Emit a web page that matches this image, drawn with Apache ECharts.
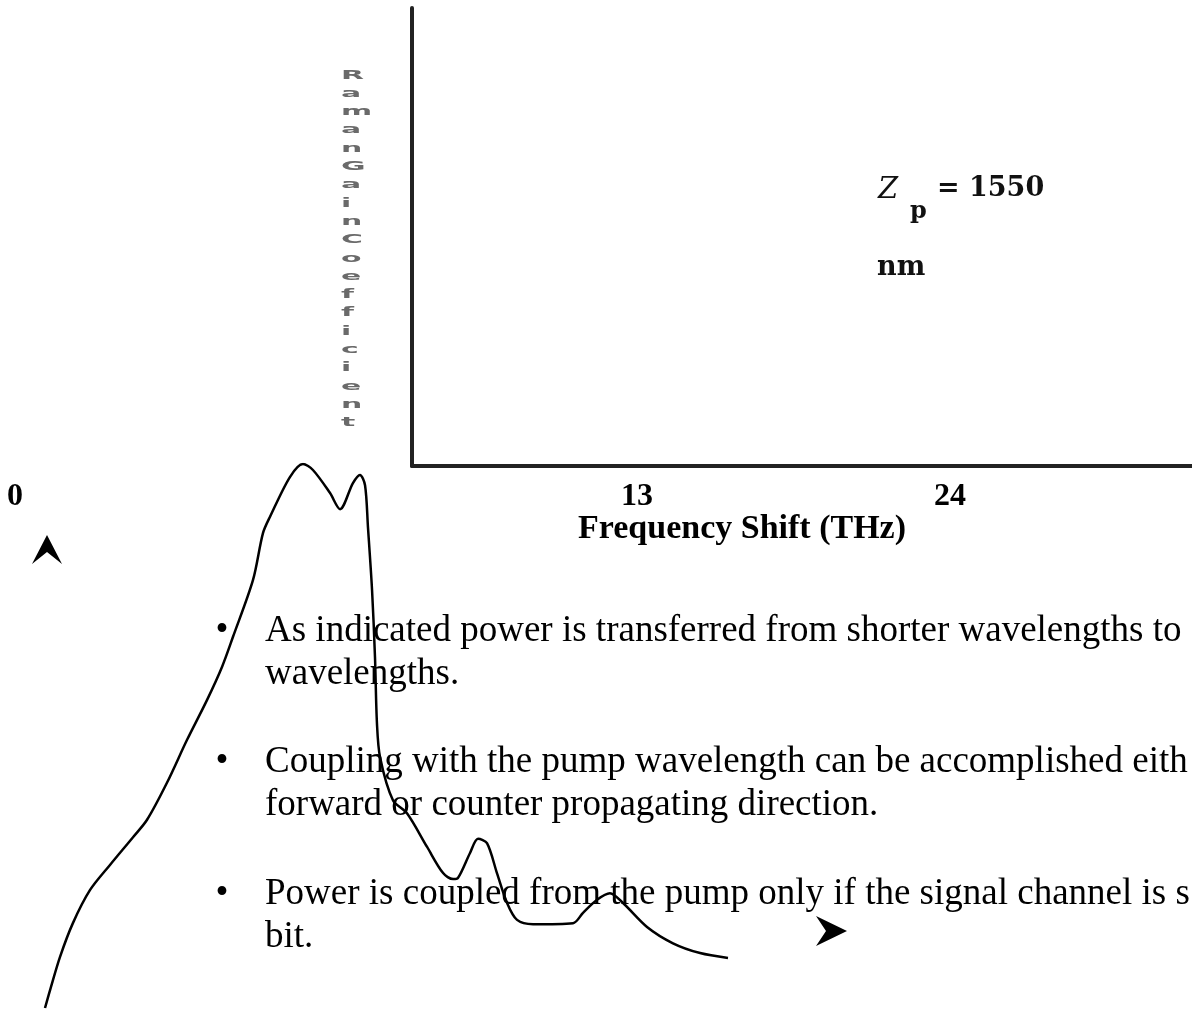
<!DOCTYPE html>
<html>
<head lang="en">
    <meta http-equiv="Content-Type" content="text/html; charset=UTF-8">
    <script src="https://cdn.jsdelivr.net/npm/echarts@6/dist/echarts.min.js" type="text/javascript"></script>
    <style>
        html, body { margin: 0; padding: 0; background: #fff; }
        #container { width: 1192px; height: 1027px; }
    </style>
</head>
<body>
<div id="container"></div>
<script>
/**=======data=====**/
// frequency shift (THz) of the gain curve
var shiftTHz = [0, 0.26, 0.77, 1.43, 2.31, 3.33, 4.51, 5.23, 6.25, 7.28, 8.30, 9.07, 9.63, 10.66, 11.17, 11.53,
    12.55, 13.22, 13.73, 14.60, 15.12, 15.78, 16.14, 16.40, 16.55, 16.76, 16.91, 17.01, 17.17, 17.83, 18.55,
    19.58, 20.40, 20.91, 21.16, 21.78, 22.19, 22.65, 23.16, 23.68, 24.19, 25.01, 27.06, 27.57, 28.29, 28.95,
    29.62, 30.85, 32.18, 33.57, 35.0];
// relative raman gain
var gainRel = [0, 0.033, 0.094, 0.156, 0.217, 0.263, 0.314, 0.346, 0.414, 0.493, 0.566, 0.627, 0.682, 0.787, 0.873, 0.903,
    0.976, 1.0, 0.989, 0.947, 0.917, 0.965, 0.980, 0.961, 0.884, 0.768, 0.645, 0.524, 0.461, 0.382, 0.358,
    0.296, 0.248, 0.237, 0.239, 0.285, 0.311, 0.303, 0.248, 0.193, 0.162, 0.154, 0.156, 0.175, 0.199, 0.211,
    0.193, 0.149, 0.119, 0.101, 0.092];
// tick labels under the axis
var tickLabels = ['0', '13', '24'];
var xAxisName = 'Frequency Shift (THz)';
var yAxisName = 'RamanGainCoefficient';
var pumpLabel = ['Z', 'p', '= 1550', 'nm'];
var bullets = [
    ['As indicated power is transferred from shorter wavelengths to', 'wavelengths.'],
    ['Coupling with the pump wavelength can be accomplished eith', 'forward or counter propagating direction.'],
    ['Power is coupled from the pump only if the signal channel is s', 'bit.']
];

var curveData = [];
for (var i = 0; i < shiftTHz.length; i++) {
    curveData.push([shiftTHz[i], gainRel[i]]);
}

/**=======text on the slide=====**/
var serifB = 'bold 32px "Liberation Serif", serif';
var g = [];
// tick labels
var tickX = [15, 637, 950];
for (var t = 0; t < tickLabels.length; t++) {
    g.push({ type: 'text', x: tickX[t], y: 497, style: { text: tickLabels[t], font: serifB, fill: '#000', textAlign: 'center', textVerticalAlign: 'middle' } });
}
g.push({ type: 'text', x: 742, y: 529, style: { text: xAxisName, font: 'bold 34px "Liberation Serif", serif', fill: '#000', textAlign: 'center', textVerticalAlign: 'middle' } });
// stacked letters of the axis title (stretched like the scan)
g.push({ type: 'text', x: 341, y: 66, scaleX: 2.3, style: { text: yAxisName.split('').join('\n'), font: 'bold 13px "DejaVu Sans", sans-serif', lineHeight: 18.3, fill: '#6a6a6a', textAlign: 'left', textVerticalAlign: 'top' } });
// pump wavelength
g.push({ type: 'text', x: 878, y: 190, style: { text: pumpLabel[0], font: 'italic 29px "DejaVu Serif", serif', fill: '#111', textAlign: 'left', textVerticalAlign: 'middle' } });
g.push({ type: 'text', x: 910, y: 212, style: { text: pumpLabel[1], font: 'bold 24px "DejaVu Serif", serif', fill: '#111', textAlign: 'left', textVerticalAlign: 'middle' } });
g.push({ type: 'text', x: 937, y: 189, style: { text: pumpLabel[2], font: 'bold 27px "DejaVu Serif", serif', fill: '#111', textAlign: 'left', textVerticalAlign: 'middle' } });
g.push({ type: 'text', x: 877, y: 268, style: { text: pumpLabel[3], font: 'bold 27px "DejaVu Serif", serif', fill: '#111', textAlign: 'left', textVerticalAlign: 'middle' } });
// bullet points
var bulletY = [631, 762, 894];
for (var b = 0; b < bullets.length; b++) {
    g.push({ type: 'text', x: 222, y: bulletY[b], style: { text: '•', font: '37px "Liberation Serif", serif', fill: '#000', textAlign: 'center', textVerticalAlign: 'middle' } });
    g.push({ type: 'text', x: 265, y: bulletY[b], style: { text: bullets[b][0], font: '37px "Liberation Serif", serif', fill: '#000', textAlign: 'left', textVerticalAlign: 'middle' } });
    g.push({ type: 'text', x: 265, y: bulletY[b] + 43, style: { text: bullets[b][1], font: '37px "Liberation Serif", serif', fill: '#000', textAlign: 'left', textVerticalAlign: 'middle' } });
}
// arrow heads
g.push({ type: 'polygon', shape: { points: [[47, 535], [62, 564], [47, 552], [32, 564]] }, style: { fill: '#000' } });
g.push({ type: 'polygon', shape: { points: [[816, 916], [847, 931], [816, 946], [826, 931]] }, style: { fill: '#000' } });

var myChart = echarts.init(document.getElementById('container'));
var option = {
    animation: false,
    backgroundColor: '#fff',
    grid: [
        { left: 412, top: 8, width: 782, height: 458 },   // axes box
        { left: 45, top: 464, width: 683, height: 544 }    // gain curve
    ],
    xAxis: [
        { gridIndex: 0, type: 'value', min: 0, max: 1, axisLine: { show: true, lineStyle: { color: '#222', width: 4 } }, axisTick: { show: false }, axisLabel: { show: false }, splitLine: { show: false } },
        { gridIndex: 1, type: 'value', min: 0, max: 35, show: false }
    ],
    yAxis: [
        { gridIndex: 0, type: 'value', min: 0, max: 1, axisLine: { show: true, lineStyle: { color: '#222', width: 4 } }, axisTick: { show: false }, axisLabel: { show: false }, splitLine: { show: false } },
        { gridIndex: 1, type: 'value', min: 0, max: 1, show: false }
    ],
    graphic: g,
    series: [
        {
            name: 'gain',
            type: 'line',
            xAxisIndex: 1,
            yAxisIndex: 1,
            data: curveData,
            smooth: 0.3,
            showSymbol: false,
            lineStyle: { color: '#000', width: 2.5 }
        }
    ]
};
myChart.setOption(option);
</script>
</body>
</html>
